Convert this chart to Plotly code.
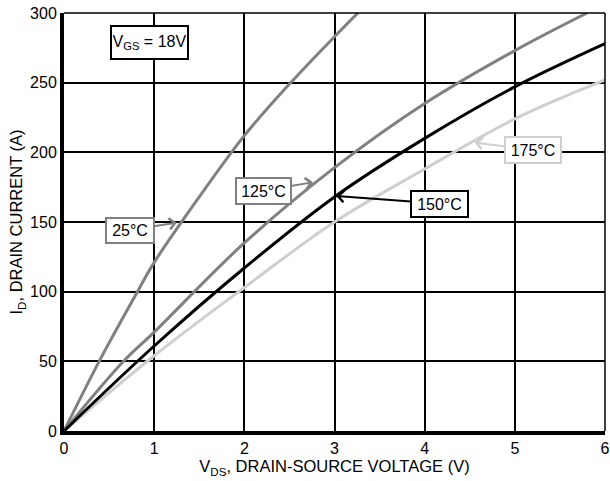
import plotly.graph_objects as go

# Data
vds_25 = [0, 0.39, 0.815, 1.0, 1.5, 2.0, 2.5, 3.0, 3.26]
id_25 = [0, 50, 100, 121, 168, 212, 249, 283, 300]

vds_125 = [0, 0.66, 1.0, 2.0, 3.0, 4.0, 5.0, 5.8]
id_125 = [0, 50, 71, 135, 189, 235, 273, 300]

vds_150 = [0, 1.0, 2.0, 3.0, 4.0, 5.0, 6.0]
id_150 = [0, 61, 117, 168, 210, 247, 278]

vds_175 = [0, 1.0, 2.0, 3.0, 4.0, 5.0, 6.0]
id_175 = [0, 54, 103, 150, 188, 224, 252]

x_ticks = [0, 1, 2, 3, 4, 5, 6]
y_ticks = [0, 50, 100, 150, 200, 250, 300]

FONT = "Liberation Sans, Arial, sans-serif"
GRAY = "#808080"
LIGHT = "#cfcfcf"

fig = go.Figure()
for xs, ys, col in [(vds_175, id_175, LIGHT), (vds_125, id_125, GRAY),
                    (vds_25, id_25, GRAY), (vds_150, id_150, "black")]:
    fig.add_trace(go.Scatter(x=xs, y=ys, mode="lines",
                             line=dict(color=col, width=3, shape="spline", smoothing=1.0),
                             showlegend=False, hoverinfo="skip"))

# annotations: (label, head x, head y, text x, text y, color, width, height)
labels = [
    ("25°C", 1.25, 149.5, 0.729, 144.2, GRAY, 44, 21),
    ("125°C", 2.76, 178.5, 2.209, 172.6, GRAY, 51, 22),
    ("150°C", 3.02, 168.7, 4.164, 163.1, "black", 53, 22),
    ("175°C", 4.555, 207.0, 5.206, 201.7, LIGHT, 52, 22),
]
for txt, hx, hy, tx, ty, col, w, h in labels:
    fig.add_annotation(x=hx, y=hy, ax=tx, ay=ty, axref="x", ayref="y",
                       xref="x", yref="y", text=txt, showarrow=True,
                       arrowhead=4, arrowsize=1.1, arrowwidth=2, arrowcolor=col,
                       bordercolor=col, borderwidth=2, borderpad=1, bgcolor="white",
                       width=w, height=h,
                       font=dict(family=FONT, size=16, color="black"))

fig.add_annotation(x=0.95, y=278.5, xref="x", yref="y", showarrow=False,
                   text="V<sub>GS</sub> = 18V", bordercolor="black", borderwidth=2,
                   borderpad=1, bgcolor="white", width=73, height=29,
                   font=dict(family=FONT, size=16, color="black"))

# top and right thin borders
fig.add_shape(type="line", xref="paper", yref="paper", x0=0, x1=1, y0=1, y1=1,
              line=dict(color="black", width=1.5))
fig.add_shape(type="line", xref="paper", yref="paper", x0=1, x1=1, y0=0, y1=1,
              line=dict(color="black", width=1.5))

fig.update_layout(
    width=610, height=481,
    margin=dict(l=64, r=5, t=13, b=50),
    paper_bgcolor="white", plot_bgcolor="white",
    font=dict(family=FONT, size=16, color="black"),
    xaxis=dict(range=[0, 6], tickvals=x_ticks, ticktext=[str(v) for v in x_ticks],
               showgrid=True, gridcolor="black", gridwidth=1.5,
               showline=True, linecolor="black", linewidth=4, zeroline=False,
               ticks="", tickfont=dict(size=16), automargin=False,
               ticklabeloverflow="allow",
               title=dict(text="V<sub>DS</sub>, DRAIN-SOURCE VOLTAGE (V)",
                          font=dict(size=16.5), standoff=4)),
    yaxis=dict(range=[0, 300], tickvals=y_ticks, ticktext=[str(v) for v in y_ticks],
               showgrid=True, gridcolor="black", gridwidth=1.5,
               showline=True, linecolor="black", linewidth=4, zeroline=False,
               ticks="", tickfont=dict(size=16), automargin=False,
               ticklabeloverflow="allow",
               title=dict(text="I<sub>D</sub>, DRAIN CURRENT (A)",
                          font=dict(size=16.5), standoff=4)),
)

fig.write_html("out.html", post_script="document.body.style.margin='0';",
               config={"displayModeBar": False})
